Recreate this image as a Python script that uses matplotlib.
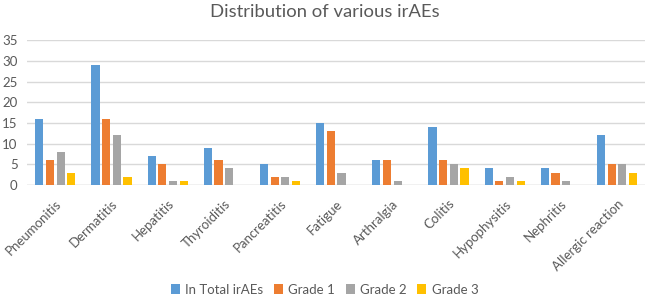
import numpy as np
import matplotlib.pyplot as plt

categories = ['Pneumonitis', 'Dermatitis', 'Hepatitis', 'Thyroiditis', 'Pancreatitis',
              'Fatigue', 'Arthralgia', 'Colitis', 'Hypophysitis', 'Nephritis', 'Allergic reaction']
total = [16, 29, 7, 9, 5, 15, 6, 14, 4, 4, 12]
grade1 = [6, 16, 5, 6, 2, 13, 6, 6, 1, 3, 5]
grade2 = [8, 12, 1, 4, 2, 3, 1, 5, 2, 1, 5]
grade3 = [3, 2, 1, 0, 1, 0, 0, 4, 1, 0, 3]

series = [('In Total irAEs', total, '#5B9BD5'),
          ('Grade 1', grade1, '#ED7D31'),
          ('Grade 2', grade2, '#A5A5A5'),
          ('Grade 3', grade3, '#FFC000')]

plt.rcParams['font.family'] = ['Lato', 'DejaVu Sans']
txt = '#595959'

fig = plt.figure(figsize=(6.49, 2.97), dpi=100)
ax = fig.add_axes([0.042, 0.377, 0.952, 0.488])

x = np.arange(len(categories))
pitch = 0.19
width = 0.145
for i, (name, vals, col) in enumerate(series):
    ax.bar(x + (i - 1.5) * pitch, vals, width, color=col, label=name, zorder=3)

ax.set_xlim(-0.5, len(categories) - 0.5)
ax.set_ylim(0, 35)
ax.set_yticks(range(0, 36, 5))
ax.yaxis.grid(True, color='#D9D9D9', linewidth=1, zorder=0)
for s in ax.spines.values():
    s.set_visible(False)
ax.axhline(0, color='#D9D9D9', linewidth=1, zorder=2)
ax.tick_params(length=0, labelsize=9.5, colors=txt)
ax.tick_params(axis='y', pad=7)
ax.tick_params(axis='x', pad=9)
ax.set_xticks(x)
ax.set_xticklabels(categories, rotation=45, ha='right', rotation_mode='anchor')

fig.suptitle('Distribution of various irAEs', y=0.985, fontsize=13.3, color=txt)
fig.legend(loc='lower center', bbox_to_anchor=(0.5, -0.035), ncol=4, frameon=False,
           fontsize=9.5, labelcolor=txt, handlelength=0.7, handleheight=0.7,
           handletextpad=0.4, columnspacing=0.8)

fig.savefig('out.png', dpi=100)
